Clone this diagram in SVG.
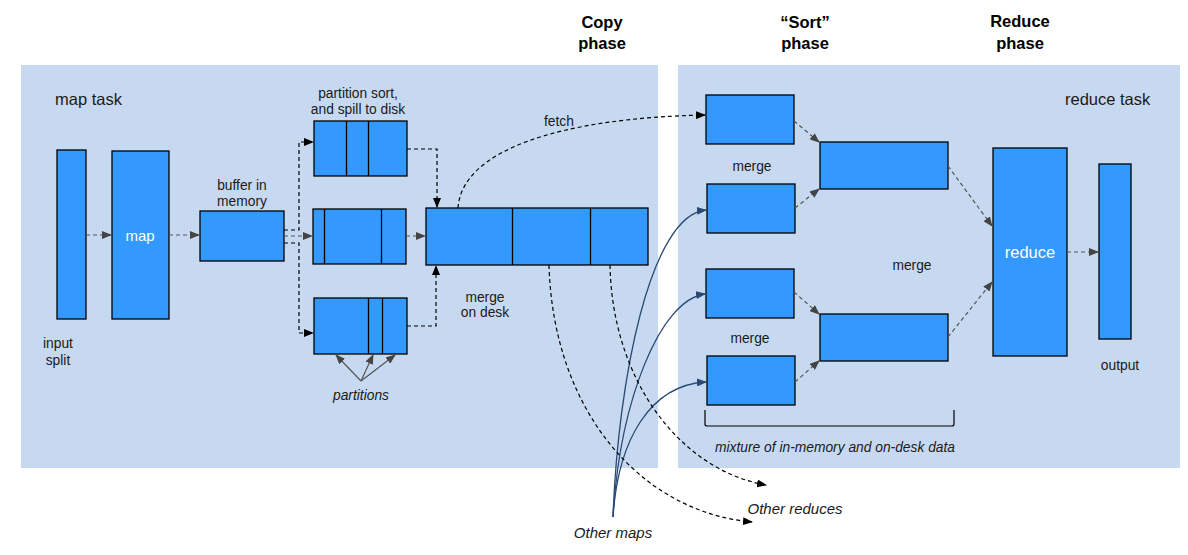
<svg xmlns="http://www.w3.org/2000/svg" width="1188" height="555" viewBox="0 0 1188 555">
<style>
.panel{fill:#c6d9f1;stroke:none}
.box{fill:#3399ff;stroke:#000;stroke-width:1.3}
.div{stroke:#000;stroke-width:1.3}
.t{font-family:"Liberation Sans",Arial,sans-serif;font-size:13.8px;fill:#1a1a1a}
.tc{text-anchor:middle}
.big{font-size:16.5px}
.om{font-size:15px}
.hd{font-family:"Liberation Sans",Arial,sans-serif;font-size:16.5px;font-weight:bold;fill:#000;text-anchor:middle}
.w{fill:#fff;font-size:15px}
.it{font-style:italic}
.g{fill:none;stroke:#555;stroke-width:1.2;stroke-dasharray:4,3;marker-end:url(#ag)}
.k{fill:none;stroke:#000;stroke-width:1.2;stroke-dasharray:4,3}
.ka{marker-end:url(#ak)}
.s{fill:none;stroke:#2a4a74;stroke-width:1.3;marker-end:url(#ab)}
.p{fill:none;stroke:#555;stroke-width:1.2;marker-end:url(#ag)}
</style>
<defs>
<marker id="ag" markerWidth="10" markerHeight="8" refX="9" refY="4" orient="auto" markerUnits="userSpaceOnUse"><path d="M0,0 L10,4 L0,8 Z" fill="#444"/></marker>
<marker id="ak" markerWidth="10" markerHeight="8" refX="9" refY="4" orient="auto" markerUnits="userSpaceOnUse"><path d="M0,0 L10,4 L0,8 Z" fill="#000"/></marker>
<marker id="ab" markerWidth="10" markerHeight="8" refX="9" refY="4" orient="auto" markerUnits="userSpaceOnUse"><path d="M0,0 L10,4 L0,8 Z" fill="#2a4a74"/></marker>
</defs>
<rect width="1188" height="555" fill="#fff"/>
<g id="panels">
<rect class="panel" x="21" y="65" width="637" height="403"/>
<rect class="panel" x="678" y="65" width="502" height="403"/>
</g>
<g id="headings">
<text class="hd" x="602" y="28">Copy</text><text class="hd" x="602" y="49">phase</text>
<text class="hd" x="805" y="28">“Sort”</text><text class="hd" x="805" y="49">phase</text>
<text class="hd" x="1020" y="27">Reduce</text><text class="hd" x="1020" y="49">phase</text>
</g>
<g id="labels">
<text class="t big" x="55" y="105">map task</text>
<text class="t big" x="1065" y="105">reduce task</text>
<text class="t tc" x="58" y="348">input</text><text class="t tc" x="58" y="365">split</text>
<text class="t tc" x="242" y="190">buffer in</text><text class="t tc" x="242" y="206">memory</text>
<text class="t tc" x="358" y="98">partition sort,</text><text class="t tc" x="358" y="114">and spill to disk</text>
<text class="t tc" x="559" y="126">fetch</text>
<text class="t tc" x="485" y="302">merge</text><text class="t tc" x="485" y="317">on desk</text>
<text class="t tc it" x="361" y="400">partitions</text>
<text class="t tc" x="752" y="171">merge</text>
<text class="t tc" x="750" y="343">merge</text>
<text class="t tc" x="912" y="270">merge</text>
<text class="t tc" x="1120" y="370">output</text>
<text class="t tc it" x="835" y="452">mixture of in-memory and on-desk data</text>
<text class="t tc it om" x="795" y="514">Other reduces</text>
<text class="t tc it om" x="613" y="538">Other maps</text>
</g>
<g id="input-split"><rect class="box" x="57" y="150" width="29" height="169"/></g>
<g id="map"><rect class="box" x="112" y="151" width="57" height="168"/><text class="t tc w" x="140" y="241">map</text></g>
<g id="buffer"><rect class="box" x="200" y="211" width="84" height="50"/></g>
<g id="spill1"><rect class="box" x="314" y="121" width="93" height="55"/><line class="div" x1="346.5" y1="121" x2="346.5" y2="176"/><line class="div" x1="368.5" y1="121" x2="368.5" y2="176"/></g>
<g id="spill2"><rect class="box" x="313" y="209" width="93" height="55"/><line class="div" x1="324.5" y1="209" x2="324.5" y2="264"/><line class="div" x1="381.5" y1="209" x2="381.5" y2="264"/></g>
<g id="spill3"><rect class="box" x="314" y="298" width="93" height="56"/><line class="div" x1="368.5" y1="298" x2="368.5" y2="354"/><line class="div" x1="382.5" y1="298" x2="382.5" y2="354"/></g>
<g id="merge-disk"><rect class="box" x="426" y="208" width="222" height="57"/><line class="div" x1="512.5" y1="208" x2="512.5" y2="265"/><line class="div" x1="590.5" y1="208" x2="590.5" y2="265"/></g>
<g id="r1"><rect class="box" x="706" y="95" width="88" height="49"/></g>
<g id="r2"><rect class="box" x="707" y="184" width="88" height="49"/></g>
<g id="r3"><rect class="box" x="706" y="269" width="88" height="49"/></g>
<g id="r4"><rect class="box" x="707" y="356" width="88" height="49"/></g>
<g id="m1"><rect class="box" x="820" y="142" width="128" height="47"/></g>
<g id="m2"><rect class="box" x="820" y="314" width="128" height="47"/></g>
<g id="reduce"><rect class="box" x="993" y="148" width="74" height="208"/><text class="t tc w" x="1030" y="258" style="font-size:16.5px">reduce</text></g>
<g id="output"><rect class="box" x="1099" y="164" width="32" height="175"/></g>
<g id="connectors">
<path class="g" d="M86,235 H111"/>
<path class="g" d="M169,235 H199"/>
<path class="k ka" d="M284,230 H299 V142 H313"/>
<path class="g" d="M284,236 H312"/>
<path class="k ka" d="M284,243 H299 V333 H313"/>
<path class="g" d="M406,236 H425"/>
<path class="k ka" d="M407,149 H437 V207"/>
<path class="k ka" d="M407,326 H436 V266"/>
<path class="k ka" d="M458,208 C462,150 560,118 705,115"/>
<path class="p" d="M361,381 L336,355"/>
<path class="p" d="M361,381 L373,355"/>
<path class="p" d="M361,381 L395,355"/>
<path class="g" d="M794,121 L819,142"/>
<path class="g" d="M795,208 L819,189"/>
<path class="g" d="M794,292 L819,314"/>
<path class="g" d="M795,382 L819,361"/>
<path class="g" d="M948,166 L992,226"/>
<path class="g" d="M948,337 L992,282"/>
<path class="g" d="M1067,252 H1098"/>
<path class="s" d="M613,517 C618,380 650,215 706,210"/>
<path class="s" d="M613,517 C620,400 660,300 705,294"/>
<path class="s" d="M613,517 C618,440 650,385 706,382"/>
<path class="k ka" d="M549,265 C553,410 640,512 752,522"/>
<path class="k ka" d="M610,265 C612,380 680,470 766,485"/>
<path fill="none" stroke="#000" stroke-width="1.2" d="M705,410 V424 Q705,426 707,426 H952 Q954,426 954,424 V410"/>
</g>
</svg>
